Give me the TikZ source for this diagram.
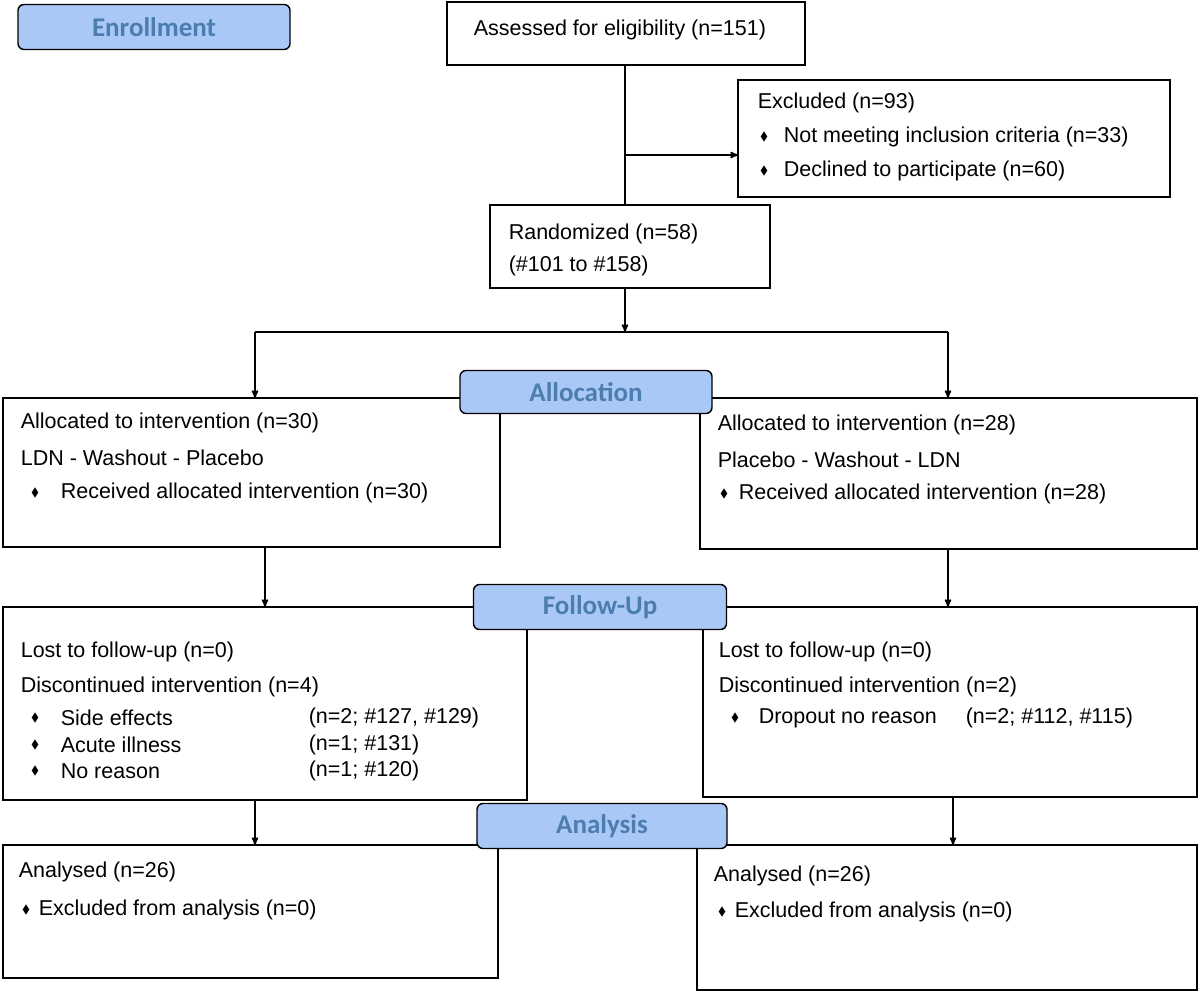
\documentclass[tikz,border=0pt]{standalone}
\usepackage{amssymb}
\usepackage{fontspec}
\setmainfont{Liberation Sans}
\newfontfamily\headfont{Carlito}
\usetikzlibrary{arrows}
\definecolor{headfill}{RGB}{170,200,245}
\definecolor{headtext}{RGB}{75,125,175}
\begin{document}
\begin{tikzpicture}[x=1pt,y=-1pt,->,>=stealth',line width=1.6pt,
  arr/.style={arrows={-stealth'[scale=1.6]}},
  box/.style={draw=black,line width=1.4pt,-},
  head/.style={draw=black,line width=1.4pt,fill=headfill,rounded corners=6pt,
               text=headtext,font=\headfont\bfseries\fontsize{27}{30}\selectfont},
  txt/.style={anchor=west,inner sep=0pt,font=\fontsize{21.5}{24}\selectfont},
  dot/.style={anchor=center,inner sep=0pt,font=\fontsize{12}{14}\selectfont}]
  \useasboundingbox (0,0) rectangle (1200,992);

  % boxes
  \draw[box] (447,2) rectangle (805,65);
  \draw[box] (738,80) rectangle (1170,197);
  \draw[box] (490,205) rectangle (770,288);
  \draw[box] (3,398) rectangle (500,547);
  \draw[box] (700,398) rectangle (1197,549);
  \draw[box] (3,607) rectangle (527,800);
  \draw[box] (703,607) rectangle (1197,797);
  \draw[box] (3,845) rectangle (498,978);
  \draw[box] (697,845) rectangle (1197,990);

  % connectors
  \coordinate (asB) at (625,65);
  \coordinate (exL) at (738,155);
  \coordinate (split) at (625,155);
  \coordinate (rdT) at (625,205);
  \coordinate (rdB) at (625,288);
  \coordinate (bar) at (625,332);
  \coordinate (barL) at (255,332);
  \coordinate (barR) at (948,332);
  \coordinate (alL) at (255,398);
  \coordinate (alR) at (948,398);
  \coordinate (alLB) at (265,547);
  \coordinate (alRB) at (948,549);
  \coordinate (fuL) at (265,607);
  \coordinate (fuR) at (948,607);
  \coordinate (fuLB) at (255,800);
  \coordinate (fuRB) at (953,797);
  \coordinate (anL) at (255,845);
  \coordinate (anR) at (953,845);
  \draw[-] (asB) -- (rdT);
  \draw[arr] (split) -- (exL);
  \draw[arr] (rdB) -- (bar);
  \draw[-] (barL) -- (barR);
  \draw[arr] (barL) -- (alL);
  \draw[arr] (barR) -- (alR);
  \draw[arr] (alLB) -- (fuL);
  \draw[arr] (alRB) -- (fuR);
  \draw[arr] (fuLB) -- (anL);
  \draw[arr] (fuRB) -- (anR);

  % stage headers
  \node[head,minimum width=272,minimum height=45] (enroll) at (154,27) {Enrollment};
  \node[head,minimum width=252,minimum height=43] (alloc) at (586,392) {Allocation};
  \node[head,minimum width=253,minimum height=45] (follow) at (600,607) {Follow-Up};
  \node[head,minimum width=250,minimum height=45] (analysis) at (602,826) {Analysis};

  % texts
  \node[txt] (t1) at (473,30) {Assessed for eligibility (n=151)};
  \node[txt] (t2) at (757,103) {Excluded (n=93)};
  \node[dot] (d2a) at (764,137) {$\blacklozenge$};
  \node[txt] (t2a) at (783,137) {Not meeting inclusion criteria (n=33)};
  \node[dot] (d2b) at (764,171) {$\blacklozenge$};
  \node[txt] (t2b) at (783,171) {Declined to participate (n=60)};
  \node[txt] (t3) at (508,234) {Randomized (n=58)};
  \node[txt] (t3a) at (508,266) {(\#101 to \#158)};

  \node[txt] (t4) at (20,423) {Allocated to intervention (n=30)};
  \node[txt] (t4a) at (20,458) {LDN - Washout - Placebo};
  \node[dot] (d4) at (35,493) {$\blacklozenge$};
  \node[txt] (t4b) at (60,493) {Received allocated intervention (n=30)};
  \node[txt] (t5) at (717,425) {Allocated to intervention (n=28)};
  \node[txt] (t5a) at (717,460) {Placebo - Washout - LDN};
  \node[dot] (d5) at (724,494) {$\blacklozenge$};
  \node[txt] (t5b) at (738,494) {Received allocated intervention (n=28)};

  \node[txt] (t6) at (20,652) {Lost to follow-up (n=0)};
  \node[txt] (t6a) at (20,687) {Discontinued intervention (n=4)};
  \node[dot] (d6b) at (35,718) {$\blacklozenge$};
  \node[txt] (t6b) at (60,718) {Side effects};
  \node[txt] (n6b) at (308,718) {(n=2; \#127, \#129)};
  \node[dot] (d6c) at (35,745) {$\blacklozenge$};
  \node[txt] (t6c) at (60,745) {Acute illness};
  \node[txt] (n6c) at (308,745) {(n=1; \#131)};
  \node[dot] (d6d) at (35,771) {$\blacklozenge$};
  \node[txt] (t6d) at (60,771) {No reason};
  \node[txt] (n6d) at (308,771) {(n=1; \#120)};
  \node[txt] (t7) at (718,652) {Lost to follow-up (n=0)};
  \node[txt] (t7a) at (718,687) {Discontinued intervention (n=2)};
  \node[dot] (d7) at (735,718) {$\blacklozenge$};
  \node[txt] (t7b) at (758,718) {Dropout no reason};
  \node[txt] (n7b) at (965,718) {(n=2; \#112, \#115)};

  \node[txt] (t8) at (18,872) {Analysed (n=26)};
  \node[dot] (d8) at (26,910) {$\blacklozenge$};
  \node[txt] (t8a) at (38,910) {Excluded from analysis (n=0)};
  \node[txt] (t9) at (713,876) {Analysed (n=26)};
  \node[dot] (d9) at (722,912) {$\blacklozenge$};
  \node[txt] (t9a) at (734,912) {Excluded from analysis (n=0)};
\end{tikzpicture}
\end{document}
